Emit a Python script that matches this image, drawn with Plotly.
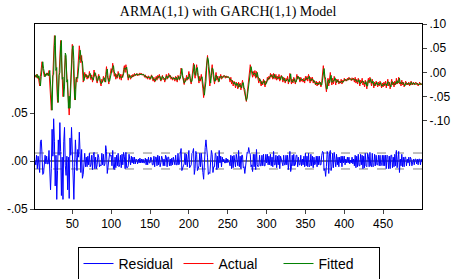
import plotly.graph_objects as go

# Values in thousandths, observations 2..500
actual_k = [
    -6, -10, -4, -12, -7, -16, -28, -8, 14, 22,
    8, -5, -9, -3, -6, -1, -4, -7, 4, -22,
    -52, -78, -45, -2, 40, 76, 50, 10, -30, -62,
    -40, 0, 40, 66, 30, -10, -50, -30, 5, 35,
    20, -15, -45, -70, -88, -50, -10, 30, 58, 25,
    -15, -57, -35, -10, -20, 0, 25, 55, 40, 20,
    35, 5, -20, -12, 0, -10, -4, -14, -6, -12,
    2, -8, -15, -5, -20, -10, 5, -8, -2, -16,
    -22, -10, -4, -14, -20, -28, -14, -20, -8, -16,
    -20, -4, 12, -6, -16, -24, -10, -2, 8, 0,
    19, 6, -8, -2, -14, -4, -12, 2, -8, -14,
    -4, -16, -4, -10, 6, 14, 0, 16, 4, -8,
    -16, -4, -8, -14, -6, -10, -4, -9, -2, -7,
    -4, -2, -7, -3, -6, -1, -5, -2, -6, -3,
    -6, -10, -5, -12, -8, -14, -7, -11, -15, -9,
    -5, -12, -18, -10, -20, -14, -8, -16, -6, -12,
    -4, -14, -18, -10, -6, -15, -12, -20, -10, -4,
    -14, -8, -2, -10, -6, -14, -9, -16, -10, -12,
    -18, -8, -14, -20, -6, -12, -16, -4, 9, -2,
    -12, -20, -25, -12, -18, -6, -16, -10, 2, -10,
    -18, -24, -10, 5, 19, 2, -12, 4, 16, 0,
    -14, -22, -8, -18, -4, -16, -34, -52, -40, -18,
    4, 28, 35, 12, -8, -28, -12, 4, 16, -4,
    -14, -24, -10, 0, -16, -8, -20, -8, -12, -4,
    -14, -8, -10, -6, -9, -12, -7, -11, -8, -10,
    -12, -20, -10, -24, -16, -28, -18, -22, -32, -20,
    -26, -34, -20, -30, -22, -36, -26, -16, -28, -38,
    -48, -56, -60, -44, -30, -12, 4, 16, 6, 0,
    -10, 2, -8, 4, -12, 2, -4, -14, -22, -12,
    -20, -28, -18, -26, -14, -22, -30, -18, -22, -10,
    -16, -8, -14, -2, -10, -4, -14, -2, -8, -14,
    -4, -16, -8, -14, -4, -18, -10, -6, -12, -20,
    -10, -16, -22, -12, -18, -8, -24, -14, -2, -14,
    -24, -14, -22, -10, -18, -24, -14, -4, -14, -8,
    -14, -20, -10, -18, -14, -20, -12, -22, -8, -16,
    -8, -18, -4, -14, -22, -10, -18, -10, -22, -16,
    -22, -26, -18, -28, -20, -26, -18, -24, -30, -20,
    -6, 14, -2, -16, -30, -40, -24, -12, -28, -14,
    0, -16, -26, -12, -24, -8, -16, -26, -14, -20,
    -14, -24, -18, -22, -14, -24, -16, -20, -12, -18,
    -14, -18, -12, -16, -10, -15, -13, -17, -11, -16,
    -12, -20, -10, -22, -14, -24, -12, -20, -28, -16,
    -22, -12, -26, -18, -30, -16, -24, -34, -20, -12,
    -22, -10, -18, -28, -14, -24, -32, -20, -28, -18,
    -24, -30, -20, -28, -18, -26, -32, -22, -30, -20,
    -28, -18, -32, -22, -14, -28, -20, -34, -24, -14,
    -26, -20, -30, -18, -26, -12, -24, -20, -10, -24,
    -20, -28, -16, -26, -20, -30, -24, -18, -26, -22,
    -26, -20, -28, -22, -18, -26, -24, -20, -26, -23,
    -20, -25, -22, -28, -24, -20, -26, -23, -25,
]

residual_k = [
    0, -4, 6, -8, 5, -9, -12, 20, 22, 8,
    -14, -13, -4, 6, -3, 5, -3, -3, 11, -26,
    -30, -8, 33, 5, 44, 20, -26, 6, -40, -10,
    22, 6, 40, 10, -36, 4, -40, 20, 35, -5,
    -15, 5, -30, 4, -39, 24, 6, 35, 10, -30,
    -40, -6, 22, 4, -10, 12, 4, 30, -6, -12,
    12, -18, -14, 5, 8, -6, 4, -6, 5, -4,
    8, -6, -4, 6, -9, 6, 9, -8, 4, -8,
    -4, 7, 4, -6, -4, -5, 8, -4, 7, -5,
    -3, 16, 10, -13, -6, -5, 8, 5, 6, -5,
    11, -8, -9, 4, -7, 6, -5, 8, -6, -4,
    6, -7, 7, -4, 9, 5, -8, 9, -7, -7,
    -5, 7, -2, -4, 5, -2, 4, -3, 4, -3,
    2, 1, -3, 2, -2, 3, -2, 2, -2, 2,
    -2, -2, 3, -4, 2, -4, 4, -2, -2, 4,
    2, -4, -4, 5, -6, 4, 4, -5, 6, -4,
    5, -6, -2, 5, 2, -5, 2, -5, 6, 4,
    -6, 4, 4, -5, 2, -5, 3, -4, 4, -1,
    -4, 6, -4, -4, 8, -4, -2, 8, 13, -10,
    -6, -5, -3, 8, -4, 7, -6, 4, 11, -7,
    -5, -4, 8, 9, 13, -14, -8, 10, 7, -10,
    -8, -5, 8, -6, 8, -7, -12, -19, 7, 14,
    22, 14, 4, -14, -12, -13, 10, 11, 7, -12,
    -6, -6, 8, 6, -9, 5, -7, 11, -2, 5,
    -6, 4, -1, 2, -2, -2, 3, -2, 2, -1,
    -1, -5, 6, -8, 5, -7, 6, -2, -6, 7,
    -4, -5, 11, -6, 5, -8, 6, 6, -7, -6,
    -13, -5, -2, 9, 8, 14, 9, 7, -6, -4,
    -11, 7, -6, 7, -9, 12, -4, -6, -5, 6,
    -5, -5, 6, -5, 7, -5, -5, 7, -2, 7,
    -4, 5, -4, 7, -5, 4, -6, 10, -4, -4,
    6, -7, 5, -4, 6, -8, 5, 2, -4, -5,
    6, -4, -4, 6, -4, 6, -9, 6, 10, -11,
    -6, 6, -5, 7, -5, -4, 6, 6, -6, 4,
    -4, -4, 6, -5, 2, -4, 5, -6, 8, -5,
    5, -6, 8, -6, -5, 7, -5, 5, -7, 4,
    -4, -2, 5, -6, 5, -4, 5, -4, -4, 6,
    10, 9, -10, -8, -16, -6, 10, 7, -13, 8,
    11, -10, -6, 8, -7, 9, -5, -6, 7, -4,
    4, -6, 4, -2, 5, -6, 5, -2, 5, -4,
    2, -2, 4, -2, 4, -3, 1, -2, 4, -3,
    2, -5, 6, -7, 5, -6, 7, -5, -5, 7,
    -4, 6, -8, 5, -7, 8, -5, -6, 8, 5,
    -6, 9, -5, -6, 8, -6, -5, 7, -5, 6,
    -4, -4, 6, -5, 6, -5, -4, 6, -5, 6,
    -5, 6, -8, 6, 5, -8, 5, -8, 6, 6,
    -7, 4, -6, 7, -5, 11, -7, 2, 10, -12,
    2, -5, 7, -6, 4, -6, 4, 4, -5, 2,
    -2, 4, -5, 4, 2, -5, 1, 2, -4, 2,
    2, -3, 2, -4, 2, 2, -4, 2, -1,
]

assert len(actual_k) == len(residual_k)
obs = list(range(2, 2 + len(actual_k)))
actual = [v / 1000 for v in actual_k]
residual = [v / 1000 for v in residual_k]
fitted = [a - r for a, r in zip(actual, residual)]
resid_sd = 0.0083

title_text = "ARMA(1,1) with GARCH(1,1) Model"
x_ticks = [50, 100, 150, 200, 250, 300, 350, 400, 450]
left_vals = [-0.05, 0.0, 0.05]
left_text = ["-.05", ".00", ".05"]
right_vals = [-0.10, -0.05, 0.0, 0.05, 0.10]
right_text = ["-.10", "-.05", ".00", ".05", ".10"]

fig = go.Figure()
fig.add_trace(go.Scatter(x=obs, y=residual, name="Residual", mode="lines",
                         line=dict(color="#0000FF", width=1), yaxis="y"))
fig.add_trace(go.Scatter(x=obs, y=actual, name="Actual", mode="lines",
                         line=dict(color="#FF0000", width=1), yaxis="y2"))
fig.add_trace(go.Scatter(x=obs, y=fitted, name="Fitted", mode="lines",
                         line=dict(color="#008000", width=1), yaxis="y2"))

for yv, dash, col in [(resid_sd, "dash", "#808080"), (-resid_sd, "dash", "#808080"), (0, "solid", "black")]:
    fig.add_shape(type="line", xref="paper", x0=0, x1=1, yref="y", y0=yv, y1=yv,
                  line=dict(color=col, width=1, dash=dash), layer="below")

tickfont = dict(family="Liberation Sans, Arial, sans-serif", size=12, color="black")
fig.update_layout(
    width=459, height=279,
    margin=dict(l=35, r=37, t=24, b=70, autoexpand=False),
    paper_bgcolor="white", plot_bgcolor="white",
    title=dict(text=title_text, x=0.497, xanchor="center", xref="container",
               y=0.96, yanchor="middle", yref="container",
               font=dict(family="Liberation Serif, Times New Roman, serif", size=14, color="black")),
    xaxis=dict(range=[2, 500], tickvals=x_ticks, ticks="outside", ticklen=4,
               showline=True, linecolor="black", linewidth=1, mirror=True, automargin=False,
               showgrid=False, zeroline=False, tickfont=tickfont),
    yaxis=dict(range=[-0.05, 0.1427], tickvals=left_vals, ticktext=left_text,
               ticks="outside", ticklen=4, showline=True, linecolor="black", automargin=False,
               linewidth=1, mirror=True, showgrid=False, zeroline=False, tickfont=tickfont),
    yaxis2=dict(range=[-0.282, 0.10], tickvals=right_vals, ticktext=right_text,
                overlaying="y", side="right", ticks="outside", ticklen=4, automargin=False,
                showline=False, showgrid=False, zeroline=False, tickfont=tickfont),
    legend=dict(orientation="h", x=0.5, xanchor="center", y=-0.205, yanchor="top",
                bordercolor="black", borderwidth=1, bgcolor="white", entrywidth=55,
                font=dict(family="Liberation Sans, Arial, sans-serif", size=14, color="black")),
    showlegend=True,
)

fig.write_html("out.html", config={"displayModeBar": False},
               post_script="document.body.style.margin='0px';")
